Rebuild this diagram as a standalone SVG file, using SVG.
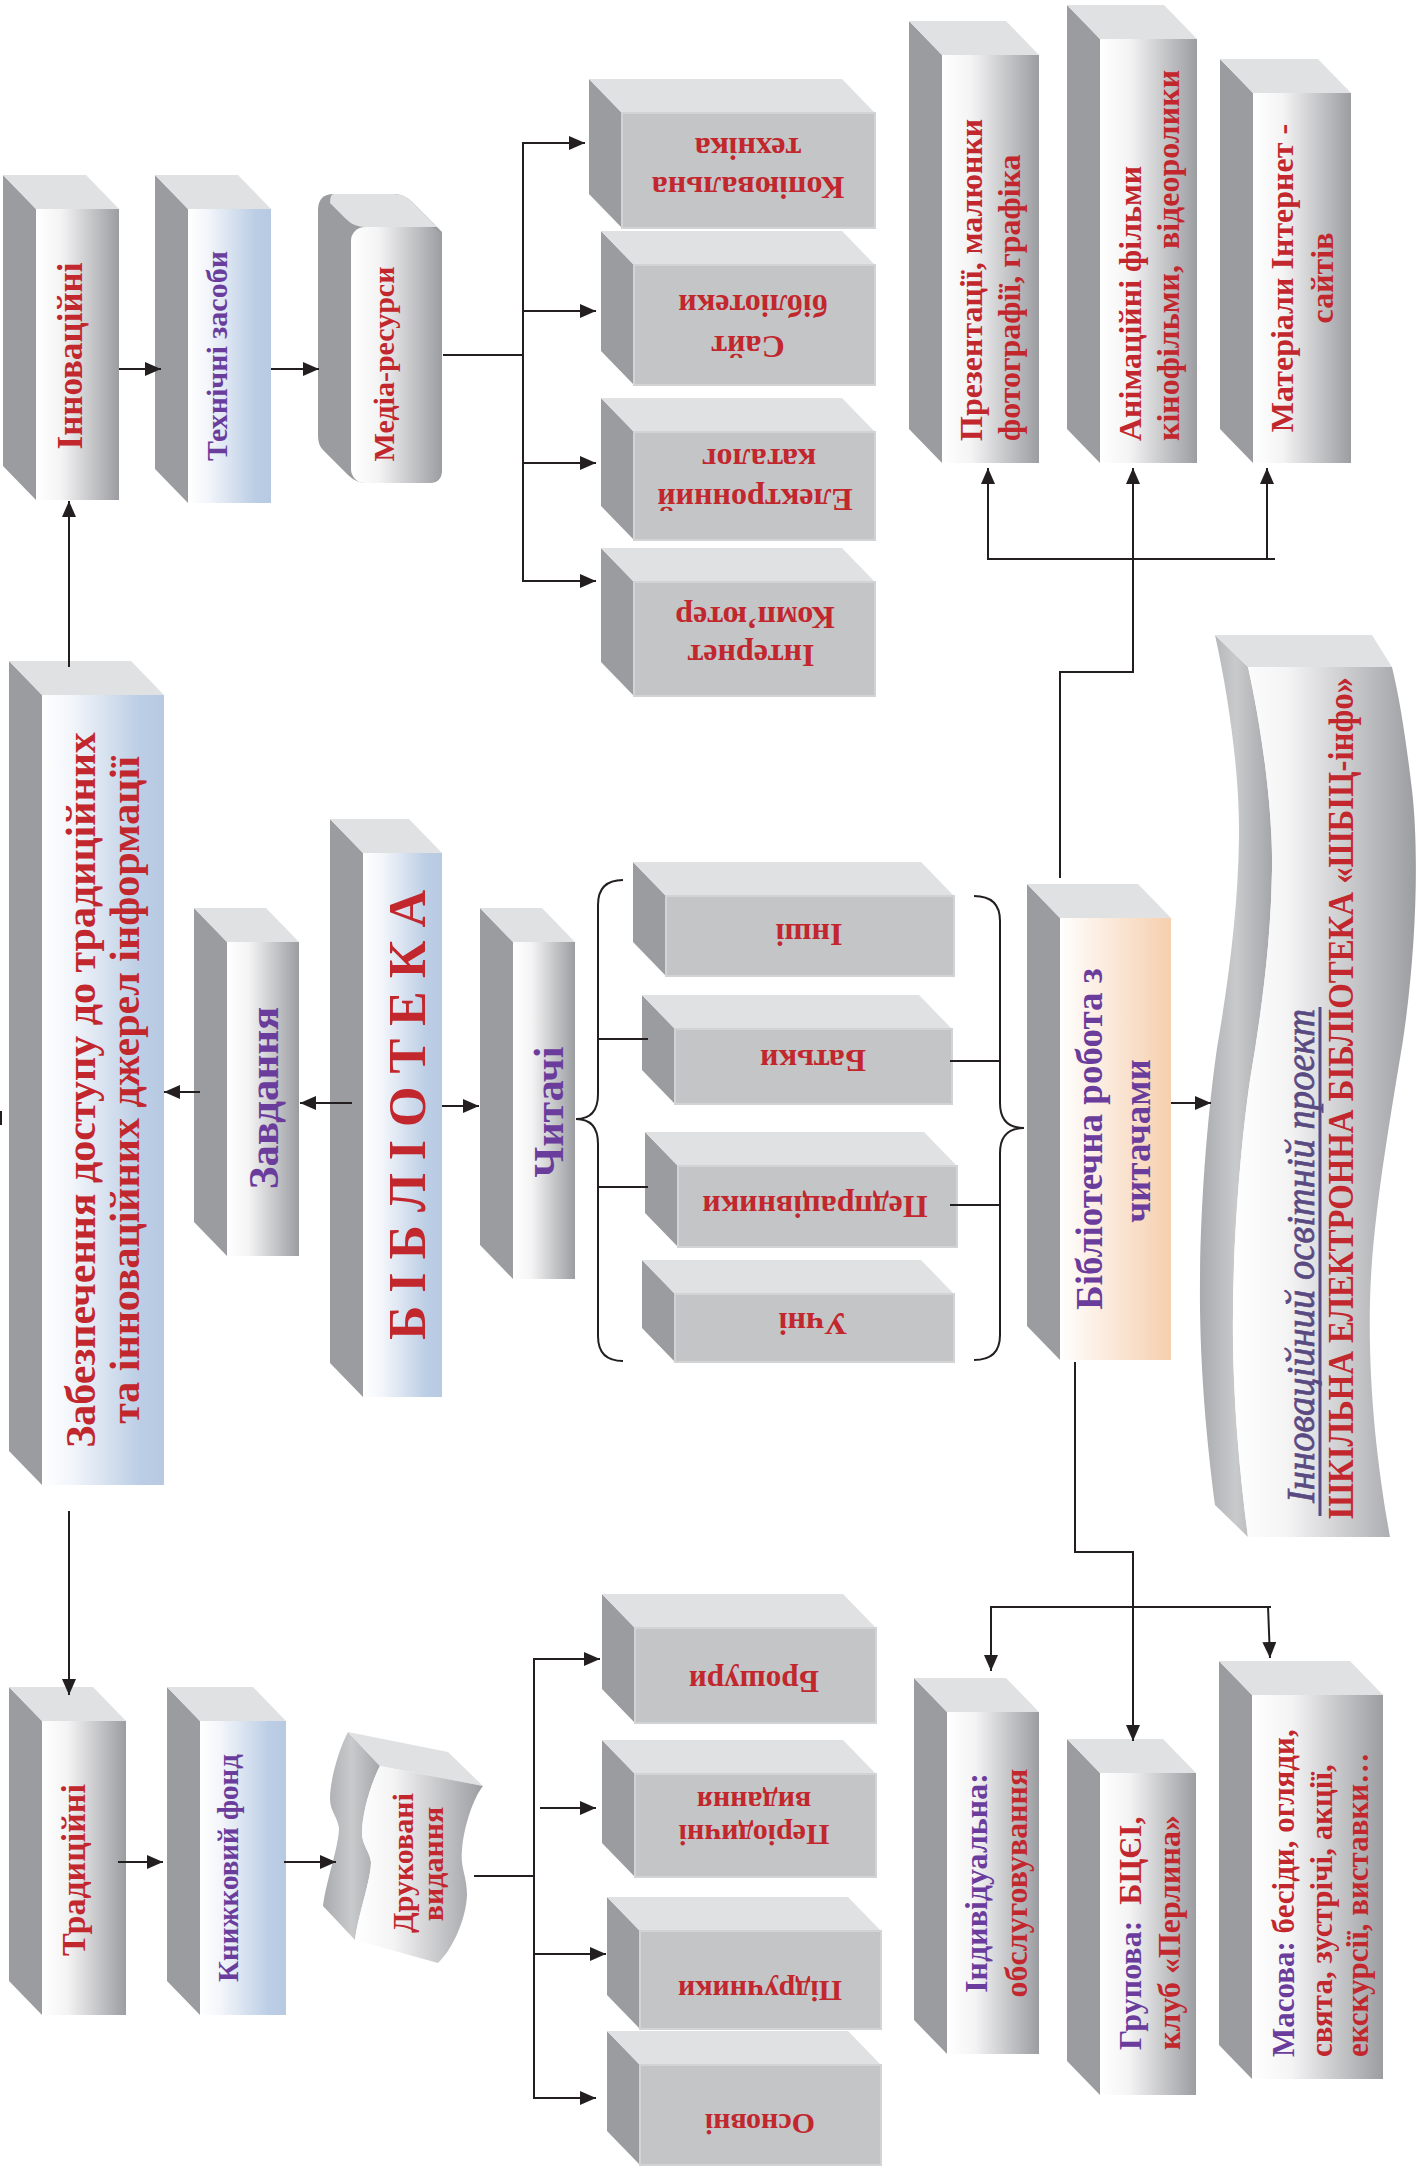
<svg xmlns="http://www.w3.org/2000/svg" width="1418" height="2168" viewBox="0 0 1418 2168">
<defs>
<style>
.t{font-family:"Liberation Serif","Times New Roman",serif;font-weight:bold}
.r{fill:#c1272d}
.p{fill:#6a3c9c}
.sd{fill:#9b9ca0}
.tp{fill:#e0e1e3}
.gf{fill:#c4c5c7;stroke:#d2d3d5;stroke-width:2}
.wf{fill:url(#gW)}
.bf{fill:url(#gB)}
.c{stroke:#231f20;stroke-width:2;fill:none}
.a{marker-end:url(#ah)}
</style>
<linearGradient id="gW" x1="0" y1="0" x2="1" y2="0">
<stop offset="0" stop-color="#ffffff"/><stop offset="0.3" stop-color="#f4f4f5"/><stop offset="1" stop-color="#9c9da1"/>
</linearGradient>
<linearGradient id="gB" x1="0" y1="0" x2="1" y2="0">
<stop offset="0" stop-color="#ffffff"/><stop offset="0.25" stop-color="#f2f5fa"/><stop offset="0.8" stop-color="#bccee5"/><stop offset="1" stop-color="#b7cae2"/>
</linearGradient>
<linearGradient id="gP" x1="0" y1="0" x2="1" y2="0">
<stop offset="0" stop-color="#ffffff"/><stop offset="0.3" stop-color="#fcf0e6"/><stop offset="1" stop-color="#f6cfae"/>
</linearGradient>
<linearGradient id="gS" x1="0" y1="0" x2="1" y2="0">
<stop offset="0" stop-color="#a9aaad"/><stop offset="0.5" stop-color="#c9cacc"/><stop offset="1" stop-color="#a5a6a9"/>
</linearGradient>
<marker id="ah" markerUnits="userSpaceOnUse" markerWidth="16" markerHeight="14" refX="16" refY="7" orient="auto">
<path d="M0,0 L16,7 L0,14 Z" fill="#231f20"/>
</marker>
</defs>
<rect width="1418" height="2168" fill="#ffffff"/>

<g id="innovatsiini">
<polygon class="sd" points="3,175 36,209 36,500 3,466"/><polygon class="tp" points="3,175 86,175 119,209 36,209"/><rect class="wf" x="36" y="209" width="83" height="291"/>
<text class="t r" font-size="35" text-anchor="middle" transform="translate(82,356) rotate(-90)">Інноваційні</text>
</g>
<g id="tekhnichni">
<polygon class="sd" points="155,175 188,209 188,503 155,469"/><polygon class="tp" points="155,175 238,175 271,209 188,209"/><rect class="bf" x="188" y="209" width="83" height="294"/>
<text class="t p" font-size="30" text-anchor="middle" transform="translate(227,356) rotate(-90)">Технічні засоби</text>
</g>
<g id="media">
<path class="sd" d="M318,210 Q318,194 334,194 L393,194 Q404,194 412,202 L442,232 L442,470 Q442,483 429,483 L367,483 Q356,483 348,475 L323,450 Q318,445 318,436 Z"/>
<path class="tp" d="M334,194 L393,194 Q404,194 412,202 L437,227 L365,227 Q354,227 346,219 L330,203 Q330,194 334,194 Z"/>
<rect class="wf" x="351" y="227" width="91" height="256" rx="14"/>
<text class="t r" font-size="30" text-anchor="middle" transform="translate(394,364) rotate(-90)">Медіа-ресурси</text>
</g>
<g id="kopiyuvalna">
<polygon class="sd" points="589,79 622,113 622,228 589,194"/><polygon class="tp" points="589,79 842,79 875,113 622,113"/><rect class="gf" x="622" y="113" width="253" height="115"/>
<text class="t r" font-size="32" text-anchor="middle" transform="translate(748,177) rotate(180)">Копіювальна</text>
<text class="t r" font-size="32" text-anchor="middle" transform="translate(748,138) rotate(180)">техніка</text>
</g>
<g id="sait">
<polygon class="sd" points="601,231 634,265 634,385 601,351"/><polygon class="tp" points="601,231 842,231 875,265 634,265"/><rect class="gf" x="634" y="265" width="241" height="120"/>
<text class="t r" font-size="32" text-anchor="middle" transform="translate(748,336) rotate(180)">Сайт</text>
<text class="t r" font-size="32" text-anchor="middle" transform="translate(753,295) rotate(180)">бібліотеки</text>
</g>
<g id="katalog">
<polygon class="sd" points="601,398 634,432 634,540 601,506"/><polygon class="tp" points="601,398 842,398 875,432 634,432"/><rect class="gf" x="634" y="432" width="241" height="108"/>
<text class="t r" font-size="32" text-anchor="middle" transform="translate(755,489) rotate(180)">Електронний</text>
<text class="t r" font-size="32" text-anchor="middle" transform="translate(759,449) rotate(180)">каталог</text>
</g>
<g id="internet">
<polygon class="sd" points="601,548 634,582 634,696 601,662"/><polygon class="tp" points="601,548 842,548 875,582 634,582"/><rect class="gf" x="634" y="582" width="241" height="114"/>
<text class="t r" font-size="32" text-anchor="middle" transform="translate(751,645) rotate(180)">Інтернет</text>
<text class="t r" font-size="32" text-anchor="middle" transform="translate(755,607) rotate(180)">Комп’ютер</text>
</g>
<g id="prezentatsii">
<polygon class="sd" points="909,21 942,55 942,463 909,429"/><polygon class="tp" points="909,21 1006,21 1039,55 942,55"/><rect class="wf" x="942" y="55" width="97" height="408"/>
<text class="t r" font-size="32" transform="translate(982,441) rotate(-90)">Презентації, малюнки</text>
<text class="t r" font-size="32" transform="translate(1020,441) rotate(-90)">фотографії, графіка</text>
</g>
<g id="animatsiini">
<polygon class="sd" points="1067,5 1100,39 1100,463 1067,429"/><polygon class="tp" points="1067,5 1164,5 1197,39 1100,39"/><rect class="wf" x="1100" y="39" width="97" height="424"/>
<text class="t r" font-size="32" transform="translate(1141,441) rotate(-90)">Анімаційні фільми</text>
<text class="t r" font-size="32" xml:space="preserve" transform="translate(1179,441) rotate(-90)">кінофільми,  відеоролики</text>
</g>
<g id="materialy">
<polygon class="sd" points="1220,59 1253,93 1253,463 1220,429"/><polygon class="tp" points="1220,59 1318,59 1351,93 1253,93"/><rect class="wf" x="1253" y="93" width="98" height="370"/>
<text class="t r" font-size="32" text-anchor="middle" transform="translate(1293,278) rotate(-90)">Матеріали Інтернет -</text>
<text class="t r" font-size="32" text-anchor="middle" transform="translate(1333,278) rotate(-90)">сайтів</text>
</g>
<g id="zabezpechennia">
<polygon class="sd" points="9,661 42,695 42,1485 9,1451"/><polygon class="tp" points="9,661 131,661 164,695 42,695"/><rect class="bf" x="42" y="695" width="122" height="790"/>
<text class="t r" font-size="42" text-anchor="middle" transform="translate(95,1090) rotate(-90)">Забезпечення доступу до традиційних</text>
<text class="t r" font-size="42" text-anchor="middle" transform="translate(139,1090) rotate(-90)">та інноваційних джерел інформації</text>
</g>
<g id="zavdannia">
<polygon class="sd" points="194,908 227,942 227,1256 194,1222"/><polygon class="tp" points="194,908 266,908 299,942 227,942"/><rect class="wf" x="227" y="942" width="72" height="314"/>
<text class="t p" font-size="43" text-anchor="middle" transform="translate(278,1098) rotate(-90)">Завдання</text>
</g>
<g id="biblioteka">
<polygon class="sd" points="330,819 363,853 363,1397 330,1363"/><polygon class="tp" points="330,819 409,819 442,853 363,853"/><rect class="bf" x="363" y="853" width="79" height="544"/>
<text class="t r" font-size="52" text-anchor="middle" transform="translate(425,1115) rotate(-90)">Б І Б Л І О Т Е К А</text>
</g>
<g id="chytachi">
<polygon class="sd" points="480,908 513,942 513,1279 480,1245"/><polygon class="tp" points="480,908 542,908 575,942 513,942"/><rect class="wf" x="513" y="942" width="62" height="337"/>
<text class="t p" font-size="42" text-anchor="middle" transform="translate(563,1112) rotate(-90)">Читачі</text>
</g>
<g id="inshi">
<polygon class="sd" points="633,862 666,896 666,976 633,942"/><polygon class="tp" points="633,862 921,862 954,896 666,896"/><rect class="gf" x="666" y="896" width="288" height="80"/>
<text class="t r" font-size="32" text-anchor="middle" transform="translate(809,924) rotate(180)">Інші</text>
</g>
<g id="batky">
<polygon class="sd" points="642,995 675,1029 675,1104 642,1070"/><polygon class="tp" points="642,995 919,995 952,1029 675,1029"/><rect class="gf" x="675" y="1029" width="277" height="75"/>
<text class="t r" font-size="32" text-anchor="middle" transform="translate(813,1050) rotate(180)">Батьки</text>
</g>
<g id="pedpratsivnyky">
<polygon class="sd" points="645,1132 678,1166 678,1247 645,1213"/><polygon class="tp" points="645,1132 924,1132 957,1166 678,1166"/><rect class="gf" x="678" y="1166" width="279" height="81"/>
<text class="t r" font-size="32" text-anchor="middle" transform="translate(815,1196) rotate(180)">Педпрацівники</text>
</g>
<g id="uchni">
<polygon class="sd" points="642,1260 675,1294 675,1362 642,1328"/><polygon class="tp" points="642,1260 921,1260 954,1294 675,1294"/><rect class="gf" x="675" y="1294" width="279" height="68"/>
<text class="t r" font-size="32" text-anchor="middle" transform="translate(813,1313) rotate(180)">Учні</text>
</g>
<g id="robota">
<polygon class="sd" points="1027,884 1060,918 1060,1360 1027,1326"/><polygon class="tp" points="1027,884 1138,884 1171,918 1060,918"/><rect x="1060" y="918" width="111" height="442" fill="url(#gP)"/>
<text class="t p" font-size="37" text-anchor="middle" transform="translate(1102,1139) rotate(-90)">Бібліотечна робота з</text>
<text class="t p" font-size="37" text-anchor="middle" transform="translate(1150,1141) rotate(-90)">читачами</text>
</g>
<g id="proekt">
<path fill="url(#gS)" d="M1215,635 C1229,698 1240,778 1239,838 C1238,908 1229,978 1217,1048 C1207,1118 1199,1218 1200,1308 C1201,1388 1209,1458 1215,1505 L1248,1537 C1242,1490 1234,1420 1233,1340 C1232,1250 1240,1150 1250,1080 C1262,1010 1271,940 1272,870 C1273,810 1262,730 1248,667 Z"/>
<polygon class="tp" points="1215,635 1372,635 1392,667 1248,667"/>
<path class="wf" d="M1248,667 L1392,667 C1400,700 1406,740 1412,790 C1420,860 1415,960 1403,1040 C1390,1120 1372,1220 1370,1300 C1368,1390 1378,1470 1390,1537 L1248,1537 C1242,1490 1234,1420 1233,1340 C1232,1250 1240,1150 1250,1080 C1262,1010 1271,940 1272,870 C1273,810 1262,730 1248,667 Z"/>
<text font-family="Liberation Serif, Times New Roman, serif" font-style="italic" font-size="40" fill="#5a4a82" stroke="#5a4a82" stroke-width="0.7" textLength="494" lengthAdjust="spacingAndGlyphs" transform="translate(1314,1503) rotate(-90)">Інноваційний освітній проект</text>
<line x1="1320" y1="1516" x2="1320" y2="1007" stroke="#5a4a82" stroke-width="3"/>
<text class="t r" font-size="36" textLength="842" lengthAdjust="spacingAndGlyphs" transform="translate(1353,1519) rotate(-90)">ШКІЛЬНА ЕЛЕКТРОННА БІБЛІОТЕКА «ШБІЦ-інфо»</text>
</g>
<g id="tradytsiini">
<polygon class="sd" points="9,1687 42,1721 42,2015 9,1981"/><polygon class="tp" points="9,1687 93,1687 126,1721 42,1721"/><rect class="wf" x="42" y="1721" width="84" height="294"/>
<text class="t r" font-size="34" text-anchor="middle" transform="translate(85,1870) rotate(-90)">Традиційні</text>
</g>
<g id="knyzhkovyi">
<polygon class="sd" points="167,1687 200,1721 200,2015 167,1981"/><polygon class="tp" points="167,1687 253,1687 286,1721 200,1721"/><rect class="bf" x="200" y="1721" width="86" height="294"/>
<text class="t p" font-size="29" text-anchor="middle" transform="translate(238,1868) rotate(-90)">Книжковий фонд</text>
</g>
<g id="drukovani">
<path fill="url(#gS)" d="M348,1732 C338,1751 330,1781 330,1799 C330,1811 338,1818 339,1828 C339,1846 326,1881 323,1906 L355,1940 C358,1915 371,1880 371,1862 C370,1852 362,1845 362,1833 C362,1815 370,1785 380,1766 Z"/>
<path class="tp" d="M348,1732 L448,1752 L483,1786 L380,1766 Z"/>
<path class="wf" d="M380,1766 C370,1785 362,1815 362,1833 C362,1845 370,1852 371,1862 C371,1880 358,1915 355,1940 L438,1963 C452,1950 466,1920 467,1895 C467,1875 460,1868 462,1850 C464,1825 474,1797 483,1786 Z"/>
<text class="t r" font-size="30" text-anchor="middle" transform="translate(413,1863) rotate(-90)">Друковані</text>
<text class="t r" font-size="30" text-anchor="middle" transform="translate(443,1864) rotate(-90)">видання</text>
</g>
<g id="broshury">
<polygon class="sd" points="602,1594 635,1628 635,1723 602,1689"/><polygon class="tp" points="602,1594 843,1594 876,1628 635,1628"/><rect class="gf" x="635" y="1628" width="241" height="95"/>
<text class="t r" font-size="31" text-anchor="middle" transform="translate(754,1671) rotate(180)">Брошури</text>
</g>
<g id="periodychni">
<polygon class="sd" points="602,1740 635,1774 635,1877 602,1843"/><polygon class="tp" points="602,1740 843,1740 876,1774 635,1774"/><rect class="gf" x="635" y="1774" width="241" height="103"/>
<text class="t r" font-size="30" text-anchor="middle" transform="translate(754,1825) rotate(180)">Періодичні</text>
<text class="t r" font-size="30" text-anchor="middle" transform="translate(754,1792) rotate(180)">видання</text>
</g>
<g id="pidruchnyky">
<polygon class="sd" points="607,1897 640,1931 640,2029 607,1995"/><polygon class="tp" points="607,1897 848,1897 881,1931 640,1931"/><rect class="gf" x="640" y="1931" width="241" height="98"/>
<text class="t r" font-size="30" text-anchor="middle" transform="translate(760,1981) rotate(180)">Підручники</text>
</g>
<g id="osnovni">
<polygon class="sd" points="607,2031 640,2065 640,2165 607,2131"/><polygon class="tp" points="607,2031 848,2031 881,2065 640,2065"/><rect class="gf" x="640" y="2065" width="241" height="100"/>
<text class="t r" font-size="30" text-anchor="middle" transform="translate(760,2114) rotate(180)">Основні</text>
</g>
<g id="indyvidualna">
<polygon class="sd" points="914,1678 947,1712 947,2054 914,2020"/><polygon class="tp" points="914,1678 1006,1678 1039,1712 947,1712"/><rect class="wf" x="947" y="1712" width="92" height="342"/>
<text class="t p" font-size="32" text-anchor="middle" transform="translate(987,1883) rotate(-90)">Індивідуальна:</text>
<text class="t r" font-size="32" text-anchor="middle" transform="translate(1027,1883) rotate(-90)">обслуговування</text>
</g>
<g id="grupova">
<polygon class="sd" points="1067,1739 1100,1773 1100,2095 1067,2061"/><polygon class="tp" points="1067,1739 1163,1739 1196,1773 1100,1773"/><rect class="wf" x="1100" y="1773" width="96" height="322"/>
<text class="t" font-size="32" xml:space="preserve" transform="translate(1141,2050) rotate(-90)"><tspan class="p">Групова:  </tspan><tspan class="r">БЦЄІ,</tspan></text>
<text class="t r" font-size="32" transform="translate(1180,2050) rotate(-90)">клуб «Перлина»</text>
</g>
<g id="masova">
<polygon class="sd" points="1219,1661 1252,1695 1252,2079 1219,2045"/><polygon class="tp" points="1219,1661 1350,1661 1383,1695 1252,1695"/><rect class="wf" x="1252" y="1695" width="131" height="384"/>
<text class="t" font-size="31" transform="translate(1294,2057) rotate(-90)"><tspan class="p">Масова: </tspan><tspan class="r">бесіди, огляди,</tspan></text>
<text class="t r" font-size="31" transform="translate(1332,2057) rotate(-90)">свята, зустрічі, акції,</text>
<text class="t r" font-size="31" transform="translate(1368,2057) rotate(-90)">екскурсії, виставки…</text>
</g>

<g id="connectors">
<line class="c a" x1="69" y1="667" x2="69" y2="501"/>
<line class="c a" x1="69" y1="1511" x2="69" y2="1695"/>
<line class="c a" x1="119" y1="369" x2="161" y2="369"/>
<line class="c a" x1="271" y1="369" x2="319" y2="369"/>
<line class="c" x1="443" y1="355" x2="523" y2="355"/>
<line class="c" x1="523" y1="142" x2="523" y2="582"/>
<line class="c a" x1="522" y1="143" x2="585" y2="143"/>
<line class="c a" x1="522" y1="311" x2="596" y2="311"/>
<line class="c a" x1="522" y1="463" x2="596" y2="463"/>
<line class="c a" x1="522" y1="581" x2="596" y2="581"/>
<line class="c a" x1="352" y1="1103" x2="300" y2="1103"/>
<line class="c a" x1="200" y1="1092" x2="164" y2="1092"/>
<line class="c a" x1="442" y1="1106" x2="479" y2="1106"/>
<path class="c" d="M623,880 Q598,880 598,905 L598,1094 Q598,1119 576,1119 Q598,1119 598,1144 L598,1336 Q598,1361 623,1361"/>
<line class="c" x1="597" y1="1039" x2="648" y2="1039"/>
<line class="c" x1="599" y1="1187" x2="648" y2="1187"/>
<path class="c" d="M974,896 Q1000,896 1000,921 L1000,1103 Q1000,1128 1024,1128 Q1000,1128 1000,1153 L1000,1335 Q1000,1360 974,1360"/>
<line class="c" x1="950" y1="1061" x2="999" y2="1061"/>
<line class="c" x1="950" y1="1205" x2="999" y2="1205"/>
<line class="c a" x1="1171" y1="1103" x2="1211" y2="1103"/>
<polyline class="c a" points="1060,878 1060,672 1133,672 1133,468"/>
<line class="c" x1="988" y1="559" x2="1275" y2="559"/>
<line class="c a" x1="988" y1="560" x2="988" y2="468"/>
<line class="c a" x1="1267" y1="560" x2="1267" y2="468"/>
<polyline class="c a" points="1075,1362 1075,1552 1133,1552 1133,1741"/>
<line class="c" x1="991" y1="1607" x2="1271" y2="1607"/>
<line class="c a" x1="991" y1="1606" x2="991" y2="1671"/>
<line class="c a" x1="1268" y1="1606" x2="1270" y2="1658"/>
<line class="c a" x1="118" y1="1862" x2="163" y2="1862"/>
<line class="c a" x1="284" y1="1862" x2="336" y2="1862"/>
<line class="c" x1="474" y1="1876" x2="534" y2="1876"/>
<line class="c" x1="534" y1="1658" x2="534" y2="2099"/>
<line class="c a" x1="533" y1="1659" x2="600" y2="1659"/>
<line class="c a" x1="540" y1="1808" x2="596" y2="1808"/>
<line class="c a" x1="533" y1="1954" x2="606" y2="1954"/>
<line class="c a" x1="533" y1="2098" x2="596" y2="2098"/>
<line class="c" x1="1" y1="1111" x2="1" y2="1125"/>
</g>
</svg>
